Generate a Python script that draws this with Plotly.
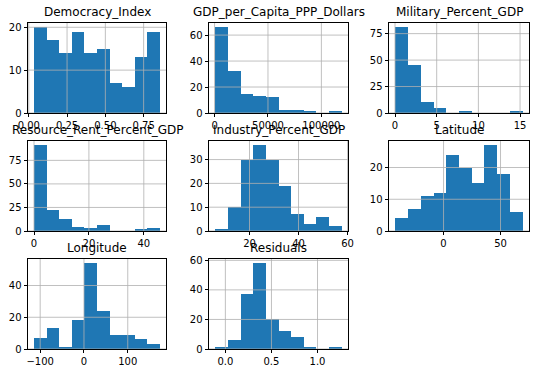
import numpy as np
import plotly.graph_objects as go

# ---- data (counts per bin, 10 bins each, and the data range of each column) ----
titles = ["Democracy_Index", "GDP_per_Capita_PPP_Dollars", "Military_Percent_GDP",
          "Resource_Rent_Percent_GDP", "Industry_Percent_GDP", "Latitude",
          "Longitude", "Residuals"]

democracy_counts = [20, 17, 14, 19, 14, 15, 7, 6, 13, 19]
gdp_counts = [66, 32, 15, 13, 12, 2, 2, 1, 0, 1]
military_counts = [81, 45, 10, 5, 0, 2, 0, 0, 0, 1]
resource_counts = [91, 22, 13, 4, 3, 6, 0, 0, 2, 3]
industry_counts = [1, 10, 30, 36, 30, 19, 7, 3, 6, 2]
latitude_counts = [4, 7, 11, 12, 24, 20, 15, 27, 18, 6]
longitude_counts = [7, 13, 1, 18, 54, 24, 9, 9, 6, 3]
residual_counts = [1, 6, 37, 58, 20, 12, 8, 1, 0, 1]

democracy_range = [0.036, 0.855]
gdp_range = [700, 119000]
military_range = [0.04, 15.31]
resource_range = [0.1, 45.8]
industry_range = [6.06, 57.6]
latitude_range = [-42.3, 69.4]
longitude_range = [-113.5, 173.0]
residual_range = [-0.109, 1.262]

xticks = [[0.0, 0.25, 0.5, 0.75], [0, 50000, 100000], [0, 5, 10, 15],
          [0, 20, 40], [20, 40, 60], [0, 50], [-100, 0, 100], [0.0, 0.5, 1.0]]
xticktext = [["0.00", "0.25", "0.50", "0.75"], ["0", "50000", "100000"], ["0", "5", "10", "15"],
             ["0", "20", "40"], ["20", "40", "60"], ["0", "50"], ["−100", "0", "100"],
             ["0.0", "0.5", "1.0"]]
yticks = [[0, 10, 20], [0, 20, 40, 60], [0, 25, 50, 75], [0, 25, 50, 75],
          [0, 10, 20, 30], [0, 10, 20], [0, 20, 40], [0, 20, 40, 60]]

counts = [democracy_counts, gdp_counts, military_counts, resource_counts,
          industry_counts, latitude_counts, longitude_counts, residual_counts]
ranges = [democracy_range, gdp_range, military_range, resource_range,
          industry_range, latitude_range, longitude_range, residual_range]

# ---- layout geometry (pixels) ----
W, H = 536, 373
cols = [(28, 166), (209, 348), (389, 529)]
rows = [(23, 113), (141, 231), (259, 349)]

BLUE = "#1f77b4"
GRID = "#b0b0b0"
FONT = "DejaVu Sans"

fig = go.Figure()
layout = dict(width=W, height=H, margin=dict(l=0, r=0, t=0, b=0, pad=0),
              paper_bgcolor="white", plot_bgcolor="white", showlegend=False,
              bargap=0, font=dict(family=FONT, size=10, color="black"))
annotations = []
shapes = []

for i in range(8):
    r, c = divmod(i, 3)
    lo, hi = ranges[i]
    edges = np.linspace(lo, hi, len(counts[i]) + 1)
    centers = (edges[:-1] + edges[1:]) / 2
    width = edges[1] - edges[0]
    ax = "" if i == 0 else str(i + 1)
    fig.add_trace(go.Bar(x=centers, y=counts[i], width=[width] * len(centers),
                         marker=dict(color=BLUE, line=dict(width=0)),
                         xaxis="x" + ax, yaxis="y" + ax, hoverinfo="x+y"))
    span = hi - lo
    xr = [lo - 0.05 * span, hi + 0.05 * span]
    yr = [0, max(counts[i]) * 1.05]
    x0, x1 = cols[c][0] / W, cols[c][1] / W
    y0, y1 = 1 - rows[r][1] / H, 1 - rows[r][0] / H
    common = dict(showline=True, linecolor="black", linewidth=0.8, mirror=True,
                  ticks="outside", ticklen=3.5, tickwidth=0.8, tickcolor="black",
                  showgrid=False, zeroline=False, fixedrange=True, automargin=False,
                  tickfont=dict(family=FONT, size=10, color="black"))
    layout["xaxis" + ax] = dict(domain=[x0, x1], range=xr, anchor="y" + ax,
                                tickmode="array", tickvals=xticks[i], ticktext=xticktext[i],
                                **common)
    layout["yaxis" + ax] = dict(domain=[y0, y1], range=yr, anchor="x" + ax,
                                tickmode="array", tickvals=yticks[i], **common)
    # grid lines drawn above bars, as matplotlib does
    for t in xticks[i]:
        shapes.append(dict(type="line", xref="x" + ax, yref="y" + ax + " domain",
                           x0=t, x1=t, y0=0, y1=1, layer="above",
                           line=dict(color=GRID, width=0.8)))
    for t in yticks[i]:
        shapes.append(dict(type="line", xref="x" + ax + " domain", yref="y" + ax,
                           x0=0, x1=1, y0=t, y1=t, layer="above",
                           line=dict(color=GRID, width=0.8)))
    annotations.append(dict(text=titles[i], xref="paper", yref="paper",
                            x=(x0 + x1) / 2, y=y1, xanchor="center", yanchor="bottom",
                            yshift=2, showarrow=False,
                            font=dict(family=FONT, size=12, color="black")))

layout["annotations"] = annotations
layout["shapes"] = shapes
fig.update_layout(**layout)
fig.write_html("out.html", config={"displayModeBar": False},
               post_script="document.body.style.margin='0px';document.body.style.overflow='hidden';")
